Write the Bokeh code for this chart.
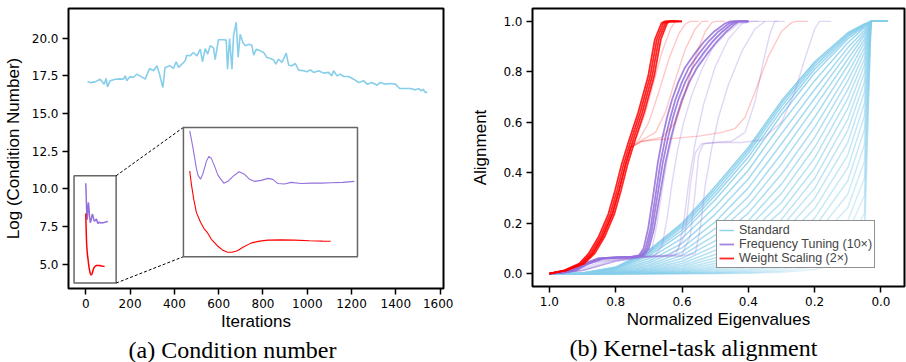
from bokeh.plotting import figure
from bokeh.models import Range1d, FixedTicker, NumeralTickFormatter, Title, Legend, LegendItem
from bokeh.layouts import row
from bokeh.embed import file_html
from bokeh.resources import INLINE

# ---------------- (a) Condition number ----------------
std_iter = [8, 20, 42, 65, 83, 92, 98, 110, 133, 155, 170, 178, 185, 200, 215, 230, 245, 268, 288, 306,
            321, 333, 348, 358, 381, 396, 408, 419, 434, 449, 456, 471, 486, 502, 517, 527, 539, 550, 562, 577,
            584, 599, 622, 634, 640, 649, 660, 667, 679, 688, 697, 709, 720, 735, 750, 758, 770, 788, 803, 818,
            833, 848, 858, 870, 886, 905, 916, 931, 946, 961, 983, 998, 1014, 1029, 1051, 1074, 1096, 1111, 1119, 1134,
            1149, 1164, 1187, 1209, 1232, 1255, 1270, 1292, 1315, 1330, 1352, 1375, 1398, 1417, 1443, 1465, 1488, 1503, 1514, 1523,
            1533, 1541]
std_logcond = [17.13, 17.05, 17.10, 17.28, 16.95, 17.33, 16.77, 17.17, 17.28, 17.30, 17.28, 17.50, 17.17, 17.45, 17.39, 17.61, 17.50, 17.28, 17.99, 17.84,
               18.17, 17.61, 16.73, 18.06, 18.17, 17.99, 18.43, 18.06, 18.28, 18.50, 18.87, 18.83, 19.05, 18.83, 19.27, 18.43, 19.31, 18.94, 19.50, 19.34,
               18.57, 19.90, 19.90, 19.87, 17.94, 19.98, 17.94, 20.15, 21.06, 18.74, 20.26, 19.71, 19.49, 19.60, 19.53, 18.87, 19.27, 19.16, 19.05, 18.72,
               18.65, 18.57, 18.28, 18.61, 18.39, 19.01, 18.21, 18.17, 18.32, 17.88, 17.84, 17.77, 17.90, 17.73, 17.84, 17.68, 17.73, 17.50, 17.84, 17.50,
               17.61, 17.46, 17.46, 17.28, 17.06, 17.17, 16.95, 17.06, 16.88, 17.06, 16.95, 16.99, 16.95, 16.66, 16.66, 16.66, 16.57, 16.66, 16.50, 16.61,
               16.39, 16.42]

ft_iter = [0, 1, 2, 3, 4, 5, 6.5, 8, 10, 11.5, 13, 15, 17, 20.5, 23, 26, 29.7, 33, 36, 38.8, 43, 47, 50, 53, 57, 61, 67, 73, 79, 85, 92, 99]
ft_logcond = [10.38, 9.95, 9.5, 9.0, 8.5, 8.15, 7.96, 8.25, 8.85, 9.1, 9.0, 8.6, 8.15, 7.76, 7.85, 8.1, 8.33, 8.2, 7.95, 7.85, 7.9, 8.0, 7.95, 7.74, 7.72, 7.8, 7.74, 7.76, 7.76, 7.78, 7.8, 7.85]

ws_iter = [0, 1, 2.4, 4, 6.5, 8.5, 10.5, 13, 16.6, 20, 22.7, 25.5, 28.7, 32, 36.8, 42, 47, 55, 63, 72, 80, 84.8]
ws_logcond = [8.37, 7.7, 6.96, 6.3, 5.8, 5.5, 5.3, 4.95, 4.63, 4.4, 4.3, 4.3, 4.38, 4.55, 4.76, 4.86, 4.91, 4.92, 4.91, 4.88, 4.86, 4.85]

a_xticks = [0, 200, 400, 600, 800, 1000, 1200, 1400, 1600]
a_yticks = [5.0, 7.5, 10.0, 12.5, 15.0, 17.5, 20.0]

# ---------------- (b) Kernel-task alignment ----------------
eig_grid = [1.0, 0.9, 0.8, 0.7, 0.6, 0.5, 0.4, 0.3, 0.2, 0.1, 0.05, 0.03, -0.02]
std_align = [
    [0, .003, .026, .092, .200, .345, .500, .685, .840, .955, .990, 1, 1],
    [0, .003, .024, .088, .192, .335, .490, .675, .832, .950, .988, 1, 1],
    [0, .002, .022, .083, .183, .323, .478, .663, .822, .945, .986, 1, 1],
    [0, .002, .020, .077, .172, .310, .462, .648, .810, .938, .984, 1, 1],
    [0, .002, .018, .070, .160, .293, .443, .630, .795, .930, .980, 1, 1],
    [0, .002, .015, .060, .140, .265, .410, .595, .765, .915, .975, 1, 1],
    [0, .001, .012, .050, .120, .235, .375, .555, .730, .895, .965, 1, 1],
    [0, .001, .010, .042, .102, .205, .340, .515, .695, .875, .955, 1, 1],
    [0, .001, .008, .034, .086, .178, .305, .475, .660, .850, .945, 1, 1],
    [0, .001, .006, .028, .072, .153, .272, .435, .620, .825, .930, 1, 1],
    [0, .001, .005, .022, .060, .130, .240, .395, .580, .795, .915, 1, 1],
    [0, 0, .004, .018, .049, .110, .210, .355, .540, .765, .895, 1, 1],
    [0, 0, .003, .014, .040, .092, .182, .318, .500, .730, .875, 1, 1],
    [0, 0, .003, .011, .032, .076, .156, .282, .458, .695, .850, 1, 1],
    [0, 0, .002, .009, .026, .062, .132, .248, .418, .655, .825, 1, 1],
    [0, 0, .002, .007, .020, .050, .110, .215, .378, .612, .795, 1, 1],
    [0, 0, .001, .005, .016, .040, .090, .185, .338, .568, .760, 1, 1],
    [0, 0, .001, .004, .012, .031, .072, .155, .298, .520, .720, 1, 1],
    [0, 0, .001, .003, .009, .024, .057, .128, .258, .470, .675, 1, 1],
    [0, 0, 0, .002, .007, .018, .044, .104, .220, .420, .625, 1, 1],
    [0, 0, 0, .002, .005, .013, .033, .082, .184, .368, .570, 1, 1],
    [0, 0, 0, .001, .004, .009, .024, .062, .150, .315, .510, 1, 1],
    [0, 0, 0, .001, .003, .006, .017, .046, .118, .262, .445, 1, 1],
    [0, 0, 0, .001, .002, .004, .012, .033, .090, .210, .378, 1, 1],
    [0, 0, 0, 0, .001, .003, .008, .023, .066, .162, .310, 1, 1],
    [0, 0, 0, 0, .001, .002, .005, .015, .045, .118, .240, 1, 1],
    [0, 0, 0, 0, .001, .001, .003, .009, .028, .080, .170, 1, 1],
    [0, 0, 0, 0, 0, .001, .002, .005, .016, .048, .105, 1, 1],
]

ft_main_align = [0, 0.004, 0.013, 0.040, 0.060, 0.064, 0.066, 0.072, 0.100, 0.180, 0.310, 0.440, 0.540, 0.620,
                 0.690, 0.760, 0.815, 0.870, 0.920, 0.960, 0.990, 1.0, 1.0]
ft_main_eig = [
    [1.0, 0.96, 0.93, 0.89, 0.85, 0.80, 0.75, 0.725, 0.710, 0.695, 0.680, 0.665, 0.650, 0.635, 0.620, 0.600, 0.580, 0.550, 0.520, 0.490, 0.460, 0.445, 0.40],
    [1.0, 0.96, 0.925, 0.885, 0.84, 0.79, 0.745, 0.72, 0.705, 0.690, 0.674, 0.658, 0.642, 0.627, 0.611, 0.590, 0.568, 0.538, 0.508, 0.478, 0.450, 0.436, 0.40],
    [1.0, 0.965, 0.935, 0.895, 0.855, 0.805, 0.755, 0.73, 0.716, 0.702, 0.687, 0.673, 0.659, 0.645, 0.630, 0.611, 0.592, 0.563, 0.533, 0.503, 0.472, 0.455, 0.40],
    [1.0, 0.955, 0.92, 0.88, 0.835, 0.785, 0.74, 0.715, 0.700, 0.684, 0.667, 0.650, 0.633, 0.617, 0.600, 0.578, 0.555, 0.525, 0.495, 0.466, 0.440, 0.428, 0.40],
]
ft_faint = [
    ([1.0, 0.93, 0.87, 0.80, 0.74, 0.71, 0.69, 0.675, 0.66, 0.645, 0.625, 0.60, 0.57, 0.54, 0.50, 0.46, 0.43, 0.40],
     [0, 0.012, 0.045, 0.06, 0.065, 0.07, 0.10, 0.20, 0.33, 0.45, 0.57, 0.68, 0.78, 0.86, 0.93, 0.98, 1.0, 1.0]),
    ([1.0, 0.92, 0.85, 0.78, 0.72, 0.68, 0.66, 0.645, 0.63, 0.615, 0.595, 0.57, 0.54, 0.51, 0.47, 0.43, 0.40, 0.37],
     [0, 0.01, 0.045, 0.06, 0.065, 0.075, 0.11, 0.22, 0.36, 0.48, 0.60, 0.71, 0.81, 0.89, 0.95, 0.99, 1.0, 1.0]),
    ([1.0, 0.90, 0.82, 0.72, 0.64, 0.61, 0.595, 0.58, 0.56, 0.535, 0.50, 0.46, 0.42, 0.39, 0.35],
     [0, 0.015, 0.05, 0.066, 0.07, 0.10, 0.20, 0.36, 0.52, 0.67, 0.82, 0.93, 0.99, 1.0, 1.0]),
    ([1.0, 0.90, 0.80, 0.72, 0.60, 0.56, 0.545, 0.53, 0.51, 0.49, 0.46, 0.42, 0.38, 0.35, 0.31],
     [0, 0.012, 0.05, 0.066, 0.07, 0.08, 0.18, 0.35, 0.50, 0.62, 0.75, 0.88, 0.97, 1.0, 1.0]),
    ([1.0, 0.90, 0.80, 0.72, 0.60, 0.575, 0.56, 0.55, 0.535, 0.50, 0.45, 0.41, 0.38, 0.355, 0.335, 0.32, 0.29],
     [0, 0.012, 0.05, 0.066, 0.075, 0.15, 0.33, 0.47, 0.515, 0.52, 0.525, 0.56, 0.68, 0.84, 0.95, 1.0, 1.0]),
    ([1.0, 0.90, 0.80, 0.72, 0.62, 0.59, 0.575, 0.56, 0.54, 0.50, 0.42, 0.36, 0.30, 0.26, 0.23, 0.20, 0.185, 0.15],
     [0, 0.012, 0.05, 0.066, 0.075, 0.16, 0.35, 0.48, 0.515, 0.52, 0.52, 0.53, 0.60, 0.72, 0.85, 0.97, 1.0, 1.0]),
]

ws_main_align = [0, 0.013, 0.04, 0.079, 0.145, 0.237, 0.33, 0.434, 0.52, 0.64, 0.783, 0.928, 0.993, 1.0, 1.0]
ws_main_eig = [
    [1.0, 0.95, 0.90, 0.87, 0.84, 0.81, 0.79, 0.77, 0.75, 0.72, 0.69, 0.67, 0.65, 0.64, 0.60],
    [1.0, 0.952, 0.905, 0.876, 0.846, 0.816, 0.796, 0.776, 0.756, 0.726, 0.696, 0.676, 0.656, 0.646, 0.61],
    [1.0, 0.948, 0.895, 0.864, 0.834, 0.804, 0.784, 0.764, 0.744, 0.714, 0.684, 0.664, 0.645, 0.636, 0.60],
    [1.0, 0.955, 0.91, 0.882, 0.852, 0.822, 0.802, 0.782, 0.762, 0.732, 0.702, 0.682, 0.662, 0.652, 0.62],
]
ws_faint = [
    ([1.0, 0.95, 0.90, 0.87, 0.84, 0.81, 0.79, 0.77, 0.755, 0.735, 0.71, 0.685, 0.66, 0.635, 0.62, 0.60],
     [0, 0.013, 0.04, 0.079, 0.145, 0.237, 0.33, 0.434, 0.50, 0.55, 0.64, 0.76, 0.88, 0.97, 1.0, 1.0]),
    ([1.0, 0.95, 0.90, 0.87, 0.84, 0.81, 0.79, 0.77, 0.755, 0.73, 0.70, 0.67, 0.64, 0.61, 0.59, 0.575, 0.55],
     [0, 0.013, 0.04, 0.079, 0.145, 0.237, 0.33, 0.434, 0.50, 0.53, 0.60, 0.72, 0.85, 0.95, 0.99, 1.0, 1.0]),
    ([1.0, 0.95, 0.90, 0.87, 0.84, 0.81, 0.79, 0.77, 0.755, 0.72, 0.68, 0.65, 0.62, 0.59, 0.56, 0.54, 0.52],
     [0, 0.013, 0.04, 0.079, 0.145, 0.237, 0.33, 0.434, 0.50, 0.53, 0.56, 0.64, 0.77, 0.89, 0.97, 1.0, 1.0]),
    ([1.0, 0.95, 0.90, 0.87, 0.84, 0.81, 0.79, 0.77, 0.755, 0.72, 0.66, 0.62, 0.59, 0.56, 0.53, 0.51, 0.50, 0.47],
     [0, 0.013, 0.04, 0.079, 0.145, 0.237, 0.33, 0.434, 0.50, 0.525, 0.54, 0.60, 0.72, 0.86, 0.96, 0.995, 1.0, 1.0]),
    ([1.0, 0.95, 0.90, 0.87, 0.84, 0.81, 0.79, 0.77, 0.755, 0.72, 0.65, 0.55, 0.48, 0.44, 0.41, 0.38, 0.34, 0.30, 0.27, 0.255, 0.22],
     [0, 0.013, 0.04, 0.079, 0.145, 0.237, 0.33, 0.434, 0.50, 0.525, 0.533, 0.545, 0.56, 0.575, 0.62, 0.72, 0.86, 0.96, 0.995, 1.0, 1.0]),
]

b_ticks = [0.0, 0.2, 0.4, 0.6, 0.8, 1.0]

COL_STD = "#87CEEB"
COL_FT = "#9370DB"
COL_WS = "#FF0000"
TICK_FONT = "DejaVu Sans"
LABEL_FONT = "Liberation Sans"


def style(p):
    p.outline_line_color = "black"
    p.outline_line_width = 2
    p.grid.visible = False
    p.background_fill_color = "white"
    p.border_fill_color = "white"
    for ax in (p.xaxis[0], p.yaxis[0]):
        ax.axis_line_color = None
        ax.major_tick_out = 6
        ax.major_tick_in = 0
        ax.major_tick_line_width = 1.5
        ax.major_tick_line_color = "black"
        ax.minor_tick_line_color = None
        ax.major_label_text_font = TICK_FONT
        ax.major_label_text_font_size = "12px"
        ax.major_label_text_color = "black"
        ax.axis_label_text_font = LABEL_FONT
        ax.axis_label_text_font_size = "17px"
        ax.axis_label_text_font_style = "normal"
        ax.axis_label_text_color = "black"
        ax.major_label_standoff = 4


def caption(p, text, offset):
    t = Title(text=text, align="left", offset=offset, text_font="Liberation Serif",
              text_font_size="24px", text_font_style="normal", text_color="black", standoff=2)
    p.add_layout(t, "below")


# ---------- left ----------
p1 = figure(frame_width=375, frame_height=280, min_border_left=68, min_border_right=10,
            min_border_top=6, min_border_bottom=76,
            x_range=Range1d(-78, 1615), y_range=Range1d(3.39, 21.97),
            output_backend="svg", toolbar_location=None)
style(p1)
p1.xaxis[0].ticker = FixedTicker(ticks=a_xticks, minor_ticks=[])
p1.yaxis[0].ticker = FixedTicker(ticks=a_yticks, minor_ticks=[])
p1.yaxis[0].formatter = NumeralTickFormatter(format="0.0")
p1.xaxis[0].axis_label = "Iterations"
p1.yaxis[0].axis_label = "Log (Condition Number)"
p1.xaxis[0].axis_label_standoff = 1
p1.yaxis[0].axis_label_standoff = 6

p1.line(std_iter, std_logcond, line_color=COL_STD, line_width=1.6)

# small zoom box (main coordinates) and inset placement (layout)
sb = dict(x0=-53, x1=137, y0=3.75, y1=10.87)
ib = dict(x0=440.8, x1=1226.7, y0=5.50, y1=14.08)
ilim = dict(x0=-3.8, x1=100.9, y0=4.08, y1=10.55)

p1.line(ft_iter, ft_logcond, line_color=COL_FT, line_width=1.5)
p1.line(ws_iter, ws_logcond, line_color=COL_WS, line_width=1.5)
p1.quad(left=[sb["x0"]], right=[sb["x1"]], bottom=[sb["y0"]], top=[sb["y1"]],
        fill_color=None, line_color="#666666", line_width=1.5)
p1.segment(x0=[sb["x1"], sb["x1"]], y0=[sb["y1"], sb["y0"]], x1=[ib["x0"], ib["x0"]], y1=[ib["y1"], ib["y0"]],
           line_color="black", line_width=1, line_dash="3 2")
p1.quad(left=[ib["x0"]], right=[ib["x1"]], bottom=[ib["y0"]], top=[ib["y1"]],
        fill_color="white", line_color="#666666", line_width=1.5)

kx = (ilim["x1"] - ilim["x0"]) / (ib["x1"] - ib["x0"])
ky = (ilim["y1"] - ilim["y0"]) / (ib["y1"] - ib["y0"])
p1.extra_x_ranges = {"inset_x": Range1d(ilim["x0"] + (p1.x_range.start - ib["x0"]) * kx,
                                        ilim["x0"] + (p1.x_range.end - ib["x0"]) * kx)}
p1.extra_y_ranges = {"inset_y": Range1d(ilim["y0"] + (p1.y_range.start - ib["y0"]) * ky,
                                        ilim["y0"] + (p1.y_range.end - ib["y0"]) * ky)}
p1.line(ft_iter, ft_logcond, line_color=COL_FT, line_width=1.1, x_range_name="inset_x", y_range_name="inset_y")
p1.line(ws_iter, ws_logcond, line_color=COL_WS, line_width=1.1, x_range_name="inset_x", y_range_name="inset_y")

caption(p1, "(a) Condition number", 60)

# ---------- right ----------
p2 = figure(frame_width=372, frame_height=278, min_border_left=79, min_border_right=2,
            min_border_top=8, min_border_bottom=76,
            x_range=Range1d(1.051, -0.071), y_range=Range1d(-0.051, 1.051),
            output_backend="svg", toolbar_location=None)
style(p2)
p2.xaxis[0].ticker = FixedTicker(ticks=b_ticks, minor_ticks=[])
p2.yaxis[0].ticker = FixedTicker(ticks=b_ticks, minor_ticks=[])
p2.xaxis[0].formatter = NumeralTickFormatter(format="0.0")
p2.yaxis[0].formatter = NumeralTickFormatter(format="0.0")
p2.xaxis[0].axis_label = "Normalized Eigenvalues"
p2.yaxis[0].axis_label = "Alignment"
p2.xaxis[0].axis_label_standoff = 1
p2.yaxis[0].axis_label_standoff = 10

n_std = len(std_align)
std_renderers = []
for i in reversed(range(n_std)):
    a = 0.9 - 0.62 * i / (n_std - 1)
    r = p2.line(eig_grid, std_align[i], line_color=COL_STD, line_alpha=a, line_width=1.5)
    std_renderers.append(r)
leg_std = std_renderers[-1]

for xs, ys in ft_faint:
    p2.line(xs, ys, line_color=COL_FT, line_alpha=0.28, line_width=1.4)
ft_renderers = []
for xs in reversed(ft_main_eig):
    ft_renderers.append(p2.line(xs, ft_main_align, line_color=COL_FT, line_alpha=0.85, line_width=1.8))
leg_ft = ft_renderers[-1]

for xs, ys in ws_faint:
    p2.line(xs, ys, line_color=COL_WS, line_alpha=0.22, line_width=1.4)
ws_renderers = []
for xs in reversed(ws_main_eig):
    ws_renderers.append(p2.line(xs, ws_main_align, line_color=COL_WS, line_alpha=0.85, line_width=1.8))
leg_ws = ws_renderers[-1]

legend = Legend(items=[LegendItem(label="Standard", renderers=[leg_std]),
                       LegendItem(label="Frequency Tuning (10\u00d7)", renderers=[leg_ft]),
                       LegendItem(label="Weight Scaling (2\u00d7)", renderers=[leg_ws])],
                location=(184, 18))
legend.label_text_font = LABEL_FONT
legend.label_text_font_size = "12.5px"
legend.glyph_width = 15
legend.glyph_height = 14
legend.label_height = 14
legend.label_standoff = 5
legend.spacing = 0
legend.padding = 2
legend.margin = 0
legend.border_line_color = "#222222"
legend.border_line_width = 1
legend.background_fill_color = "white"
legend.background_fill_alpha = 1.0
p2.add_layout(legend)

caption(p2, "(b) Kernel-task alignment", 37)

layout = row(p1, p2)
open("out.html", "w").write(file_html(layout, INLINE))
